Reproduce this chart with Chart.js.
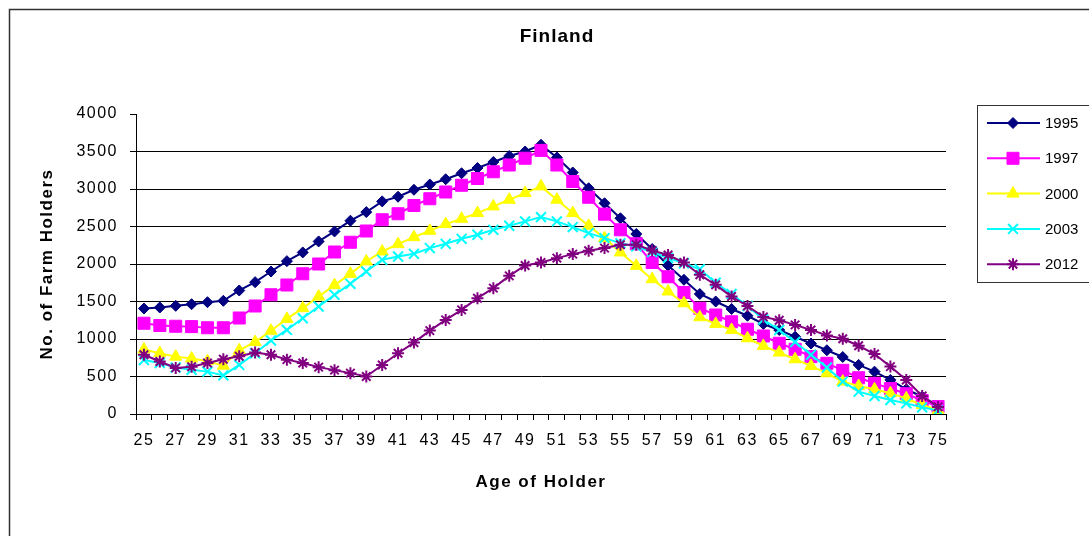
<!DOCTYPE html>
<html><head><meta charset="utf-8">
<script src="https://cdn.jsdelivr.net/npm/chart.js@4/dist/chart.umd.min.js"></script>
<style>html,body{margin:0;padding:0;background:#fff;overflow:hidden}#wrap{position:relative;width:1089px;height:536px}</style>
</head><body><div id="wrap"><canvas id="c" width="1089" height="536"></canvas></div>
<script>
const chartTitle = 'Finland';
const xTitle = 'Age of Holder';
const yTitle = 'No. of Farm Holders';
const ages = ['25','26','27','28','29','30','31','32','33','34','35','36','37','38','39','40','41','42','43','44','45','46','47','48','49','50','51','52','53','54','55','56','57','58','59','60','61','62','63','64','65','66','67','68','69','70','71','72','73','74','75'];
const seriesNames = ['1995','1997','2000','2003','2012'];
const y1995 = [1406,1420,1442,1464,1491,1509,1647,1758,1900,2038,2154,2301,2434,2577,2692,2835,2897,2990,3060,3130,3210,3280,3360,3440,3500,3590,3420,3220,3010,2810,2610,2400,2200,1980,1790,1600,1500,1400,1310,1200,1120,1030,940,850,760,655,565,455,330,230,110];
const y1997 = [1210,1180,1170,1165,1150,1150,1280,1440,1590,1720,1870,2000,2160,2290,2440,2590,2670,2780,2870,2960,3050,3140,3230,3320,3410,3515,3320,3100,2890,2665,2456,2270,2020,1830,1620,1410,1320,1230,1130,1040,943,863,765,676,582,483,409,340,270,180,100];
const y2000 = [860,810,765,740,705,645,850,960,1110,1268,1411,1566,1718,1869,2034,2167,2265,2358,2443,2532,2603,2679,2768,2857,2946,3035,2857,2679,2510,2345,2154,1976,1798,1633,1477,1290,1201,1121,1010,908,819,730,641,543,432,374,329,276,209,120,53];
const y2003 = [720,680,620,590,565,515,654,810,980,1121,1277,1433,1589,1736,1900,2056,2100,2136,2212,2269,2336,2390,2456,2510,2568,2625,2568,2492,2412,2345,2278,2234,2160,2080,2010,1930,1750,1600,1440,1260,1120,960,790,620,432,298,240,187,142,89,45];
const y2012 = [790,700,615,630,680,730,770,820,790,725,680,625,585,545,500,654,810,952,1112,1255,1388,1544,1678,1842,1980,2020,2078,2132,2176,2212,2256,2256,2180,2120,2020,1856,1722,1566,1440,1295,1250,1188,1121,1048,1003,910,800,632,454,240,95];
const yTicks = [0,500,1000,1500,2000,2500,3000,3500,4000];

const FONT = "'Liberation Sans', Arial, sans-serif";
const colors = ['#000080','#FF00FF','#FFFF00','#00FFFF','#800080'];
const styles = ['rectRot','rect','triangle','crossRot','star'];
const radii = [5.5,8.5,7,7,6];
const values = [y1995,y1997,y2000,y2003,y2012];

const datasets = seriesNames.map((n,i)=>({
  label:n, data:values[i], borderColor:colors[i], backgroundColor:colors[i],
  pointBackgroundColor:colors[i], pointBorderColor:colors[i],
  pointStyle:styles[i], pointRadius:radii[i], pointBorderWidth:(i>=3?2:1),
  borderWidth:2, tension:0, order:5-i
}));

const decor = {
  id:'decor',
  beforeDraw(chart){
    const ctx = chart.ctx;
    ctx.save();
    ctx.fillStyle='#fff'; ctx.fillRect(0,0,chart.width,chart.height);
    ctx.strokeStyle='#333'; ctx.lineWidth=1.5;
    ctx.beginPath(); ctx.moveTo(9.5,chart.height); ctx.lineTo(9.5,9.5); ctx.lineTo(chart.width,9.5); ctx.stroke();
    ctx.restore();
    ctx.letterSpacing='1.5px';
  },
  afterDraw(chart){
    const ctx = chart.ctx;
    ctx.save();
    ctx.letterSpacing='1px';
    ctx.fillStyle='#000'; ctx.font="bold 19px "+FONT; ctx.textAlign='center'; ctx.textBaseline='middle';
    ctx.fillText(chartTitle,557,37);
    ctx.letterSpacing='0px';
    // legend
    ctx.strokeStyle='#333'; ctx.lineWidth=1;
    ctx.strokeRect(977.5,105.5,130,177);
    ctx.font="15px "+FONT; ctx.textAlign='left';
    chart.data.datasets.forEach((ds,i)=>{
      const y = 123 + i*35.3;
      ctx.strokeStyle=ds.borderColor; ctx.lineWidth=2;
      ctx.beginPath(); ctx.moveTo(987,y); ctx.lineTo(1040,y); ctx.stroke();
      ctx.fillStyle=ds.backgroundColor; ctx.strokeStyle=ds.borderColor; ctx.lineWidth=ds.pointBorderWidth;
      Chart.helpers.drawPoint(ctx,{pointStyle:ds.pointStyle,radius:ds.pointRadius,rotation:0,borderWidth:ds.pointBorderWidth},1013,y);
      ctx.fillStyle='#000';
      ctx.fillText(ds.label,1045,y+1);
    });
    ctx.restore();
  }
};

new Chart(document.getElementById('c'),{
  type:'line',
  data:{labels:ages, datasets},
  options:{
    responsive:false, animation:false, devicePixelRatio:1,
    layout:{padding:{left:0,right:143,top:114,bottom:0}},
    plugins:{legend:{display:false}, tooltip:{enabled:false}, title:{display:false}},
    scales:{
      x:{
        type:'category', offset:true,
        grid:{offset:true, drawOnChartArea:false, drawTicks:true, tickLength:6, color:'#000', lineWidth:1},
        border:{display:true,color:'#000',width:1},
        ticks:{autoSkip:false, maxRotation:0, minRotation:0, padding:11, color:'#000', font:{family:FONT,size:16},
          callback:function(v,i){ return i%2===0 ? this.getLabelForValue(v) : ''; }},
        title:{display:true, text:xTitle, color:'#000', font:{family:FONT,size:17,weight:'bold'}, padding:{top:0,bottom:43}},
        afterFit:(s)=>{ s.height=122; }
      },
      y:{
        min:0, max:4000,
        afterBuildTicks:(s)=>{ s.ticks = yTicks.map(v=>({value:v})); },
        ticks:{padding:12, color:'#000', font:{family:FONT,size:16}, callback:(v)=>String(v)},
        grid:{color:(c)=> (c.tick && c.tick.value===4000) ? 'rgba(0,0,0,0)' : '#000', tickColor:'#000', tickLength:6, lineWidth:1},
        border:{display:true,color:'#000',width:1},
        title:{display:true, text:yTitle, color:'#000', font:{family:FONT,size:17,weight:'bold'}, padding:{top:37,bottom:0}},
        afterFit:(s)=>{ s.width=136; }
      }
    }
  },
  plugins:[decor]
});
</script></body></html>
